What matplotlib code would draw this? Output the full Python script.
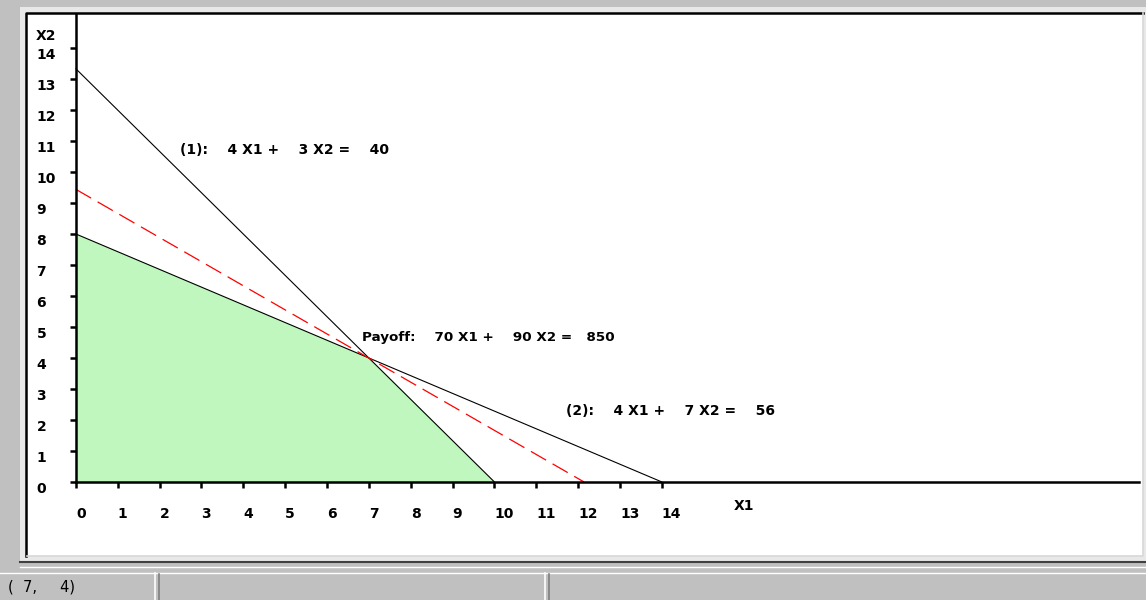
import matplotlib
matplotlib.use("Agg")
import matplotlib.pyplot as plt
from matplotlib.lines import Line2D
from matplotlib.patches import Rectangle

# constraint / payoff lines (end points)
line1_x = [0, 10]
line1_y = [13.33, 0]
line2_x = [0, 14]
line2_y = [8, 0]
payoff_x = [0, 12.14]
payoff_y = [9.44, 0]

# feasible region corners
region_x = [0, 0, 7, 10]
region_y = [0, 8, 4, 0]

ticks = list(range(0, 15))
label1 = "(1):    4 X1 +    3 X2 =    40"
label2 = "(2):    4 X1 +    7 X2 =    56"
label_pay = "Payoff:    70 X1 +    90 X2 =   850"
status = "(  7,     4)"

W, H = 1146, 600
def fx(px):
    return px / W
def fy(py):
    return 1 - py / H

fig = plt.figure(figsize=(11.46, 6), dpi=100, facecolor='#c0c0c0')

# window frame around the plot panel
fig.patches.append(Rectangle((fx(20), fy(562)), fx(1126), 555 / H, transform=fig.transFigure,
                             facecolor='#e8e8e8', edgecolor='none', zorder=-5))
fig.lines.append(Line2D([fx(20), fx(1146)], [fy(562), fy(562)], transform=fig.transFigure, color='#404040', lw=1.5))
fig.lines.append(Line2D([fx(20), fx(1146)], [fy(567), fy(567)], transform=fig.transFigure, color='white', lw=1))

ax = fig.add_axes([fx(27), fy(556), 1116 / W, 542 / H])
ax.set_facecolor('white')
ax.set_xlim(-1.17, 25.5)
ax.set_ylim(-2.39, 15.1)

# black panel border (top and left)
fig.lines.append(Line2D([fx(26), fx(26), fx(1143)], [fy(556), fy(13), fy(13)], transform=fig.transFigure,
                        color='black', lw=1.8, zorder=5))
fig.lines.append(Line2D([fx(27), fx(1143), fx(1143)], [fy(556), fy(556), fy(13)], transform=fig.transFigure,
                        color='#d8d8d8', lw=1.2, zorder=5))

ax.fill(region_x, region_y, color='#bff7bf', lw=0, zorder=1)
ax.plot(line1_x, line1_y, color='black', lw=0.8, zorder=2)
ax.plot(line2_x, line2_y, color='black', lw=0.8, zorder=2)
ax.plot(payoff_x, payoff_y, color='red', lw=0.9, dashes=(14, 6), zorder=2)

for s in ['top', 'right']:
    ax.spines[s].set_visible(False)
ax.spines['left'].set_position(('data', 0))
ax.spines['bottom'].set_position(('data', 0))
ax.spines['left'].set_bounds(0, 15.1)
ax.spines['bottom'].set_bounds(0, 25.4)
ax.spines['left'].set_linewidth(1.8)
ax.spines['bottom'].set_linewidth(1.8)

ax.set_xticks(ticks)
ax.set_yticks(ticks)
ax.set_xticklabels([str(t) for t in ticks], fontweight='bold', fontsize=10, ha='left')
ax.set_yticklabels([str(t) for t in ticks], fontweight='bold', fontsize=10, ha='left', va='top')
ax.tick_params(axis='x', direction='out', length=4, width=1.8, pad=14)
ax.tick_params(axis='y', direction='out', length=4.5, width=1.8, pad=24)

tf = dict(fontsize=10, fontweight='bold', va='center', ha='left')
ax.text(2.48, 10.71, label1, **tf)
ax.text(6.83, 4.65, label_pay, fontsize=9.7, fontweight='bold', va='center', ha='left')
ax.text(11.72, 2.29, label2, **tf)
ax.text(15.73, -0.77, "X1", **tf)
ax.text(-0.96, 14.4, "X2", **tf)

# status bar
fig.lines.append(Line2D([0, 1], [fy(573), fy(573)], transform=fig.transFigure, color='white', lw=1))
for sx in [157, 547]:
    fig.lines.append(Line2D([fx(sx - 2), fx(sx - 2)], [fy(600), fy(573)], transform=fig.transFigure, color='white', lw=1.2))
    fig.lines.append(Line2D([fx(sx + 2), fx(sx + 2)], [fy(600), fy(574)], transform=fig.transFigure, color='#808080', lw=1.2))
fig.text(fx(8), fy(587), status, fontsize=10.5, va='center', ha='left')

fig.savefig("out.png", dpi=100, facecolor=fig.get_facecolor())
